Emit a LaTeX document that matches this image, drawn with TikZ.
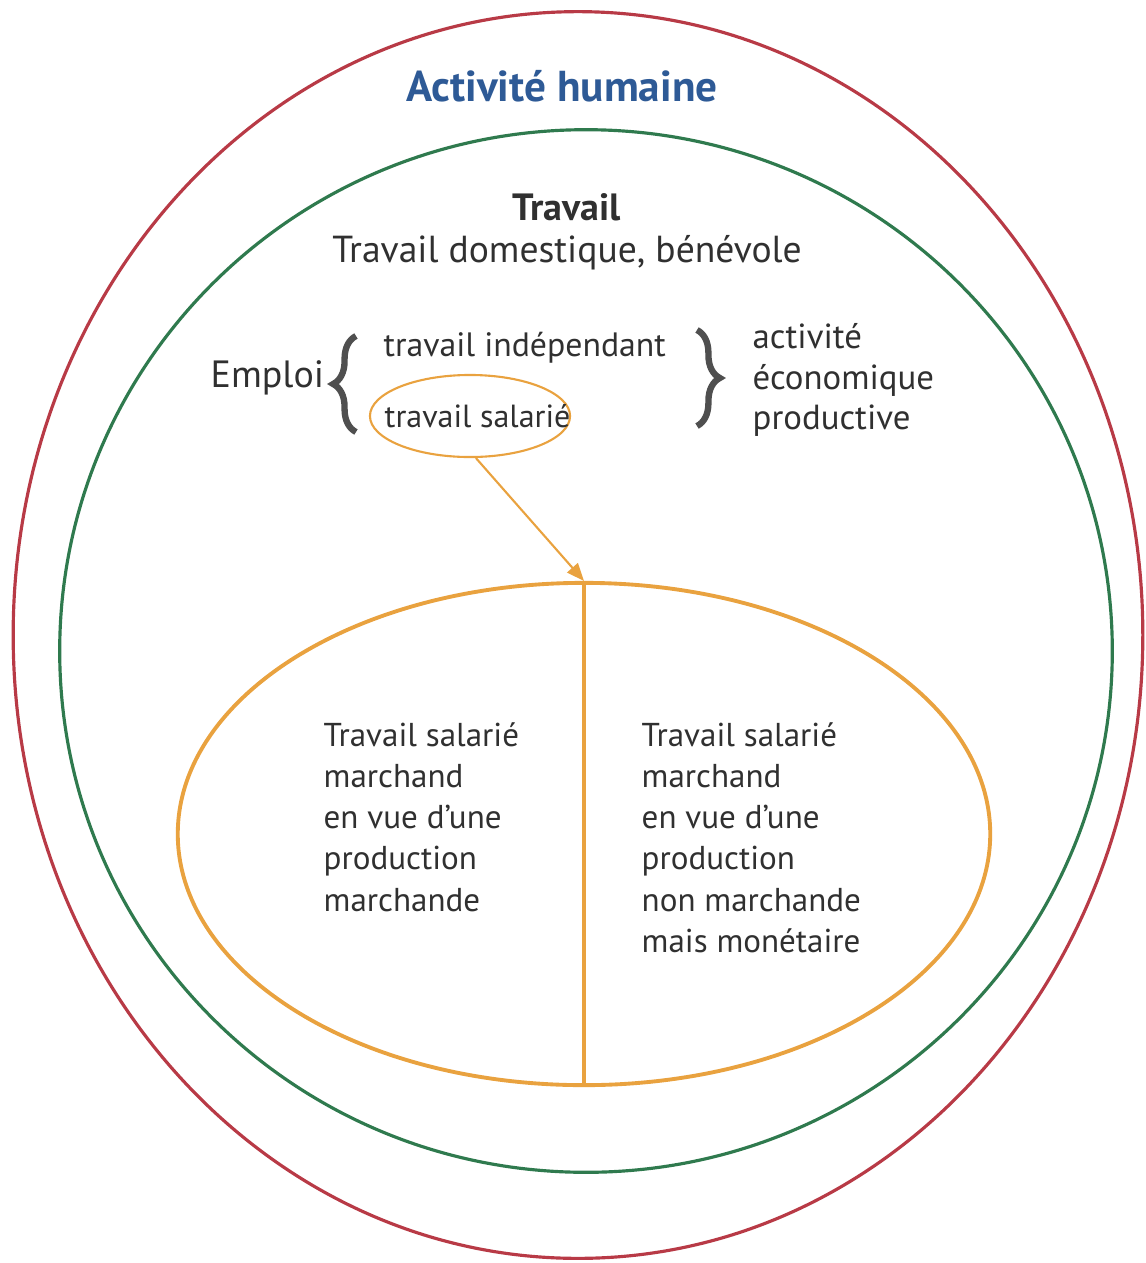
\documentclass[tikz,border=0pt]{standalone}
\usepackage{fontspec}
\setmainfont{PT Sans}
\usetikzlibrary{shapes.geometric,decorations.pathreplacing,arrows.meta}
\definecolor{cred}{HTML}{B83A46}
\definecolor{cgreen}{HTML}{2F7A4E}
\definecolor{corange}{HTML}{E9A23F}
\definecolor{cblue}{HTML}{2E5A96}
\definecolor{ctext}{HTML}{303030}
\tikzset{
  ring/.style={draw, ellipse, line width=#1, inner sep=0pt},
  txt/.style={text=ctext, font=\fontsize{9.4pt}{11.7pt}\selectfont, inner sep=0pt},
  blk/.style={txt, align=left, anchor=north west},
  brc/.style={draw=ctext!85, line width=1.8pt, decorate, decoration={brace, amplitude=6.5pt}},
}
\begin{document}
\begin{tikzpicture}[x=0.01cm, y=-0.01cm]
\useasboundingbox (0,0) rectangle (1146,1263);
\node[ring=0.9pt, draw=cred, minimum width=11.29cm, minimum height=12.46cm] (outer) at (578,635) {};
\node[ring=0.9pt, draw=cgreen, minimum width=10.52cm, minimum height=10.42cm] (green) at (586,651) {};
\node[ring=1.1pt, draw=corange, minimum width=8.12cm, minimum height=5.02cm] (big) at (584,834) {};
\node[ring=0.6pt, draw=corange, minimum width=2.0cm, minimum height=0.82cm] (sal) at (470,416) {};

\node[font=\fontsize{12.3pt}{14pt}\selectfont\bfseries, text=cblue, inner sep=0pt] (title) at (562,86) {Activité humaine};
\node[txt, font=\fontsize{10.8pt}{12pt}\selectfont\bfseries] (trav) at (567,207) {Travail};
\node[txt, font=\fontsize{10.7pt}{12pt}\selectfont] (dom) at (567,253) {Travail domestique, bénévole};
\node[txt, font=\fontsize{10.8pt}{12pt}\selectfont, anchor=west] (emploi) at (210,378) {Emploi};
\node[txt, font=\fontsize{9.6pt}{12pt}\selectfont, anchor=west] (indep) at (383,348) {travail indépendant};
\node[txt, font=\fontsize{9.1pt}{12pt}\selectfont, anchor=west] (saltxt) at (384,416) {travail salarié};
\node[txt, font=\fontsize{9.9pt}{11.6pt}\selectfont, align=left, anchor=west] (act) at (752,380) {activité\\économique\\productive};

\draw[brc] (356,432) -- (356,336);
\draw[brc] (697,330) -- (697,426);

\draw[draw=corange, line width=1.1pt] (big.north) -- (big.south);
\draw[draw=corange, line width=0.6pt, -{Triangle[length=5pt,width=4pt]}] (sal.-82) -- (big.north);

\node[blk] (left) at (323,722) {Travail salarié\\marchand\\en vue d'une\\production\\marchande};
\node[blk] (right) at (641,722) {Travail salarié\\marchand\\en vue d'une\\production\\non marchande\\mais monétaire};
\end{tikzpicture}
\end{document}
